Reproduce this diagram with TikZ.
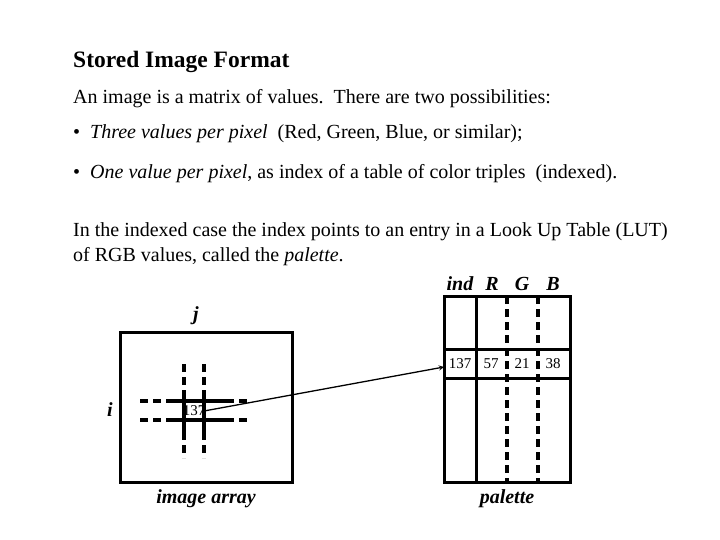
\documentclass[tikz,border=0pt]{standalone}
\usepackage{fontspec}
\setmainfont{Liberation Serif}
\begin{document}
\begin{tikzpicture}[x=1pt,y=-1pt,
 txt/.style={anchor=west,inner sep=0,font=\fontsize{20}{22}\selectfont},
 lbl/.style={inner sep=0,font=\fontsize{20}{22}\selectfont\bfseries\itshape},
 thick4/.style={line width=3.6pt},
 dsh/.style={line width=3.6pt,dash pattern=on 8pt off 5pt},
 frame/.style={line width=3pt},
 small/.style={inner sep=0,font=\fontsize{15}{16}\selectfont}]
\useasboundingbox (0,0) rectangle (720,540);
\node[txt,font=\fontsize{23.5}{26}\selectfont\bfseries] (t) at (73,62) {Stored Image Format};
\node[txt] (l1) at (73,99) {An image is a matrix of values.\ \ There are two possibilities:};
\node[txt] (l2) at (73,134) {\textbullet\ \ \textit{Three values per pixel}\ \ (Red, Green, Blue, or similar);};
\node[txt] (l3) at (73,174) {\textbullet\ \ \textit{One value per pixel}, as index of a table of color triples\ \ (indexed).};
\node[txt] (l4) at (73,232) {In the indexed case the index points to an entry in a Look Up Table (LUT)};
\node[txt] (l5) at (73,257) {of RGB values, called the \textit{palette}.};
% image array
\draw[frame] (120,332) rectangle (292,482);
\node[lbl] (j) at (196,316) {j};
\node[lbl] (i) at (110,410) {i};
\node[lbl] (ia) at (206,499) {image array};
\foreach \y in {401,420}{
 \draw[dsh] (140,\y) -- (166,\y);
 \draw[thick4] (166,\y) -- (226,\y);
 \draw[dsh] (226,\y) -- (250,\y);}
\foreach \x in {184,204}{
 \draw[dsh] (\x,364) -- (\x,390);
 \draw[thick4] (\x,390) -- (\x,432);
 \draw[dsh] (\x,432) -- (\x,458);}
\fill[white] (186,404) rectangle (202,418);
\node[small,inner sep=0pt] (px) at (194,411) {137};
% palette
\draw[frame] (444,296) rectangle (570,482);
\draw[frame] (476,296) -- (476,482);
\draw[frame] (444,349) -- (570,349) (444,378) -- (570,378);
\draw[dsh] (507,296) -- (507,482);
\draw[dsh] (538,296) -- (538,482);
\node[small,fill=white,inner sep=1pt] (p1) at (460,364) {137};
\node[small,fill=white,inner sep=1pt] (p2) at (491,364) {57};
\node[small,fill=white,inner sep=1pt] (p3) at (522,364) {21};
\node[small,fill=white,inner sep=1pt] (p4) at (553,364) {38};
\node[lbl] (hi) at (460,284) {ind};
\node[lbl] (hr) at (492,284) {R};
\node[lbl] (hg) at (522,284) {G};
\node[lbl] (hb) at (553,284) {B};
\node[lbl] (pl) at (507,499) {palette};
\coordinate (a0) at (204,411);
\coordinate (a1) at (444,367);
\draw[line width=1.3pt,-stealth] (a0) -- (a1);
\end{tikzpicture}
\end{document}
